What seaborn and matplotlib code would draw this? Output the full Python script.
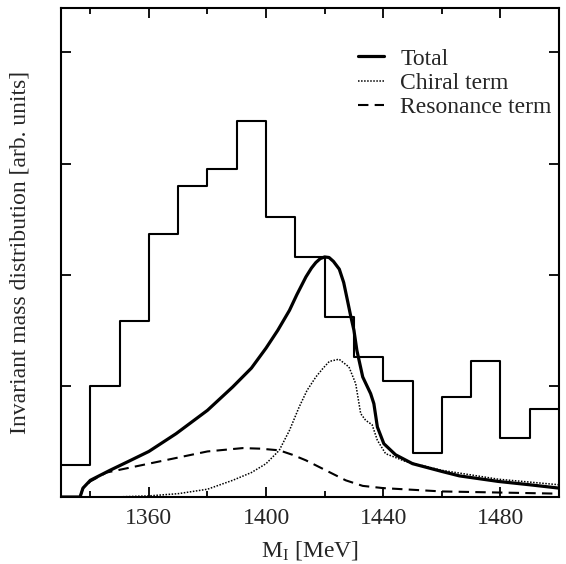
import numpy as np
import pandas as pd
import matplotlib
matplotlib.use("Agg")
import matplotlib.pyplot as plt
import seaborn as sns

# ---------------- data ----------------
hist_edges = [1330, 1340, 1350, 1360, 1370, 1380, 1390, 1400, 1410, 1420,
              1430, 1440, 1450, 1460, 1470, 1480, 1490, 1500]
hist_heights = [0.285, 1.0, 1.585, 2.37, 2.80, 2.95, 3.38, 2.52, 2.16, 1.62,
                1.26, 1.04, 0.40, 0.90, 1.22, 0.53, 0.79]

total_x = [1330, 1336.5, 1337.5, 1340, 1346.7, 1353, 1360, 1369.3, 1380, 1388.6,
           1395, 1400, 1404, 1408, 1410.5, 1413.6, 1415.5, 1417, 1418.5, 1420,
           1421.5, 1423, 1425, 1426.5, 1427.7, 1428.8, 1430, 1431, 1433, 1435.7,
           1436.8, 1438, 1440.2, 1444.2, 1450, 1460, 1466, 1479.3, 1490, 1500]
total_y = [0, 0, 0.08, 0.15, 0.24, 0.32, 0.41, 0.57, 0.78, 0.99,
           1.16, 1.34, 1.50, 1.68, 1.82, 1.98, 2.06, 2.11, 2.145, 2.16,
           2.155, 2.12, 2.05, 1.93, 1.78, 1.64, 1.50, 1.32, 1.08, 0.93,
           0.84, 0.63, 0.48, 0.38, 0.30, 0.23, 0.19, 0.14, 0.11, 0.08]

chiral_x = [1336.5, 1348, 1360, 1370, 1380, 1388.6, 1395, 1400, 1404.5, 1408,
            1411.3, 1414, 1417, 1419.5, 1421.6, 1424.9, 1428.3, 1430.6, 1432.3,
            1434, 1436.2, 1438, 1440.8, 1447.6, 1460, 1479.3, 1500]
chiral_y = [0, 0, 0.01, 0.03, 0.07, 0.15, 0.22, 0.30, 0.42, 0.60,
            0.81, 0.96, 1.08, 1.16, 1.22, 1.24, 1.17, 1.02, 0.75,
            0.69, 0.65, 0.51, 0.39, 0.32, 0.24, 0.16, 0.11]

res_x = [1336.5, 1337.5, 1340, 1345.5, 1360, 1380, 1392, 1398, 1404.5, 1409,
         1413.6, 1420.4, 1427.2, 1433, 1440, 1460, 1480, 1500]
res_y = [0, 0.08, 0.14, 0.22, 0.30, 0.41, 0.44, 0.435, 0.42, 0.38,
         0.33, 0.24, 0.15, 0.10, 0.08, 0.05, 0.04, 0.03]

labels = ["Total", "Chiral term", "Resonance term"]
x_ticks = [1360, 1400, 1440, 1480]

# ---------------- style ----------------
sns.set_style("ticks")
plt.rcParams["font.family"] = ["Liberation Serif", "DejaVu Serif"]
plt.rcParams["mathtext.fontset"] = "custom"
plt.rcParams["mathtext.rm"] = "Liberation Serif"
plt.rcParams["mathtext.it"] = "Liberation Serif:italic"

fig = plt.figure(figsize=(5.66, 5.64), dpi=100)
ax = fig.add_axes([61 / 566, 67 / 564, 498 / 566, 489 / 564])

centers = [(a + b) / 2 for a, b in zip(hist_edges[:-1], hist_edges[1:])]
sns.histplot(x=centers, weights=hist_heights, bins=hist_edges, element="step",
             fill=False, color="black", linewidth=1.5, ax=ax)

sns.lineplot(x=total_x, y=total_y, color="black", linewidth=2.3, ax=ax,
             label=labels[0], sort=False)
sns.lineplot(x=chiral_x, y=chiral_y, color="black", linewidth=1.1, ax=ax,
             label=labels[1], sort=False, linestyle=(0, (1, 1)))
sns.lineplot(x=res_x, y=res_y, color="black", linewidth=1.5, ax=ax,
             label=labels[2], sort=False, linestyle=(0, (5, 3)))

ax.set_xlim(1330, 1500)
ax.set_ylim(0, 4.4)
ax.set_xticks(x_ticks)
ax.set_xticks([1340, 1380, 1420, 1460, 1500], minor=True)
ax.set_yticks([0, 1, 2, 3, 4])
ax.set_yticklabels([])
ax.tick_params(which="both", direction="in", top=True, right=True,
               labelsize=17, pad=8, width=1.3, color="black")
ax.tick_params(which="major", length=7.5)
ax.tick_params(which="minor", length=4.5)
for s in ax.spines.values():
    s.set_linewidth(1.5)
    s.set_color("black")

ax.set_xlabel("M$_{\\mathrm{I}}$ [MeV]", fontsize=17, labelpad=7)
ax.set_ylabel("Invariant mass distribution [arb. units]", fontsize=17, labelpad=14)

leg = ax.legend(loc="upper right", bbox_to_anchor=(0.985, 0.918), frameon=False,
                fontsize=17, handlelength=1.1, handletextpad=0.7,
                labelspacing=0.12, borderpad=0, borderaxespad=0)

fig.savefig("out.png", dpi=100)
